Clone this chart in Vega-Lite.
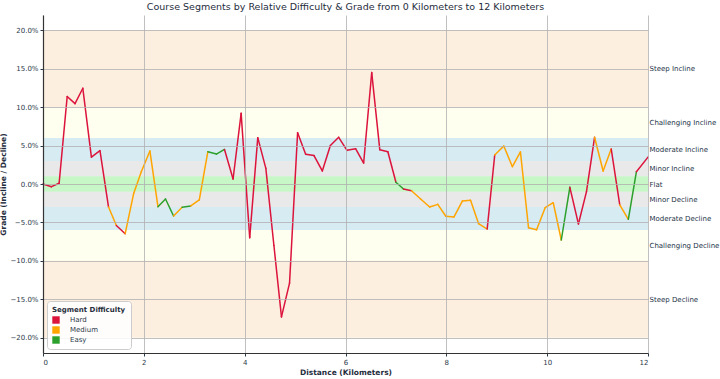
{
  "$schema": "https://vega.github.io/schema/vega-lite/v6.json",
  "width": 605,
  "height": 338,
  "autosize": "none",
  "padding": {"left": 43, "top": 15, "right": 72, "bottom": 26},
  "config": {
    "font": "DejaVu Sans",
    "view": {"stroke": null},
    "axis": {"labelColor": "#2b3a4a", "titleColor": "#1f2d3d", "labelFontSize": 7, "titleFontSize": 7.5, "titleFontWeight": "bold", "gridColor": "#b0b0b0", "gridWidth": 0.8, "gridOpacity": 1, "tickColor": "#2b3a4a", "domainColor": "#333333", "tickSize": 3}
  },
  "title": {"text": "Course Segments by Relative Difficulty & Grade from 0 Kilometers to 12 Kilometers", "fontSize": 9.5, "fontWeight": "normal", "color": "#1f2d3d", "offset": 4},
  "resolve": {"axis": {"y": "independent"}},
  "layer": [
    {
      "data": {"values": [
        {"lo": 10, "hi": 20, "zone": "steep", "name": "Steep Incline"},
        {"lo": 6, "hi": 10, "zone": "challenging", "name": "Challenging Incline"},
        {"lo": 3, "hi": 6, "zone": "moderate", "name": "Moderate Incline"},
        {"lo": 1, "hi": 3, "zone": "minor", "name": "Minor Incline"},
        {"lo": -1, "hi": 1, "zone": "flat", "name": "Flat"},
        {"lo": -3, "hi": -1, "zone": "minor", "name": "Minor Decline"},
        {"lo": -6, "hi": -3, "zone": "moderate", "name": "Moderate Decline"},
        {"lo": -10, "hi": -6, "zone": "challenging", "name": "Challenging Decline"},
        {"lo": -20, "hi": -10, "zone": "steep", "name": "Steep Decline"}
      ]},
      "mark": {"type": "rect", "fillOpacity": 0.5, "zindex": 0},
      "encoding": {
        "x": {"datum": 0, "type": "quantitative", "scale": {"domain": [0, 12], "nice": false, "zero": false}},
        "x2": {"datum": 12},
        "y": {"field": "lo", "type": "quantitative", "scale": {"domain": [-22, 22], "nice": false},
          "axis": {"orient": "right", "title": null, "grid": false, "domain": false, "ticks": false, "values": [15, 8, 4.5, 2, 0, -2, -4.5, -8, -15],
            "labelExpr": "datum.value == 15 ? 'Steep Incline' : datum.value == 8 ? 'Challenging Incline' : datum.value == 4.5 ? 'Moderate Incline' : datum.value == 2 ? 'Minor Incline' : datum.value == 0 ? 'Flat' : datum.value == -2 ? 'Minor Decline' : datum.value == -4.5 ? 'Moderate Decline' : datum.value == -8 ? 'Challenging Decline' : 'Steep Decline'",
            "labelPadding": 1, "labelFontSize": 7, "labelColor": "#243447"}},
        "y2": {"field": "hi"},
        "fill": {"field": "zone", "type": "nominal", "legend": null,
          "scale": {"domain": ["steep", "challenging", "moderate", "minor", "flat"], "range": ["#fbdfc1", "#ffffe0", "#add8e6", "#d3d3d3", "#90ee90"]}}
      }
    },
    {
      "data": {"values": [
        {"x0": 0, "y0": 0, "x1": 0.167, "y1": -0.35, "d": "Hard"},
        {"x0": 0.167, "y0": -0.35, "x1": 0.32, "y1": 0.1, "d": "Hard"},
        {"x0": 0.32, "y0": 0.1, "x1": 0.48, "y1": 11.4, "d": "Hard"},
        {"x0": 0.48, "y0": 11.4, "x1": 0.635, "y1": 10.46, "d": "Hard"},
        {"x0": 0.635, "y0": 10.46, "x1": 0.79, "y1": 12.46, "d": "Hard"},
        {"x0": 0.79, "y0": 12.46, "x1": 0.96, "y1": 3.5, "d": "Hard"},
        {"x0": 0.96, "y0": 3.5, "x1": 1.13, "y1": 4.34, "d": "Hard"},
        {"x0": 1.13, "y0": 4.34, "x1": 1.3, "y1": -3.0, "d": "Hard"},
        {"x0": 1.3, "y0": -3.0, "x1": 1.455, "y1": -5.4, "d": "Medium"},
        {"x0": 1.455, "y0": -5.4, "x1": 1.63, "y1": -6.47, "d": "Hard"},
        {"x0": 1.63, "y0": -6.47, "x1": 1.8, "y1": -1.2, "d": "Medium"},
        {"x0": 1.8, "y0": -1.2, "x1": 1.95, "y1": 1.6, "d": "Medium"},
        {"x0": 1.95, "y0": 1.6, "x1": 2.12, "y1": 4.3, "d": "Medium"},
        {"x0": 2.12, "y0": 4.3, "x1": 2.28, "y1": -2.95, "d": "Medium"},
        {"x0": 2.28, "y0": -2.95, "x1": 2.43, "y1": -1.95, "d": "Easy"},
        {"x0": 2.43, "y0": -1.95, "x1": 2.59, "y1": -4.17, "d": "Easy"},
        {"x0": 2.59, "y0": -4.17, "x1": 2.76, "y1": -3.03, "d": "Medium"},
        {"x0": 2.76, "y0": -3.03, "x1": 2.93, "y1": -2.86, "d": "Easy"},
        {"x0": 2.93, "y0": -2.86, "x1": 3.1, "y1": -2.08, "d": "Medium"},
        {"x0": 3.1, "y0": -2.08, "x1": 3.27, "y1": 4.2, "d": "Medium"},
        {"x0": 3.27, "y0": 4.2, "x1": 3.44, "y1": 3.9, "d": "Easy"},
        {"x0": 3.44, "y0": 3.9, "x1": 3.6, "y1": 4.5, "d": "Easy"},
        {"x0": 3.6, "y0": 4.5, "x1": 3.77, "y1": 0.65, "d": "Hard"},
        {"x0": 3.77, "y0": 0.65, "x1": 3.93, "y1": 9.2, "d": "Hard"},
        {"x0": 3.93, "y0": 9.2, "x1": 4.1, "y1": -7.0, "d": "Hard"},
        {"x0": 4.1, "y0": -7.0, "x1": 4.26, "y1": 6.03, "d": "Hard"},
        {"x0": 4.26, "y0": 6.03, "x1": 4.42, "y1": 2.04, "d": "Hard"},
        {"x0": 4.42, "y0": 2.04, "x1": 4.58, "y1": -8.0, "d": "Hard"},
        {"x0": 4.58, "y0": -8.0, "x1": 4.73, "y1": -17.3, "d": "Hard"},
        {"x0": 4.73, "y0": -17.3, "x1": 4.89, "y1": -12.9, "d": "Hard"},
        {"x0": 4.89, "y0": -12.9, "x1": 5.05, "y1": 6.68, "d": "Hard"},
        {"x0": 5.05, "y0": 6.68, "x1": 5.21, "y1": 3.87, "d": "Hard"},
        {"x0": 5.21, "y0": 3.87, "x1": 5.375, "y1": 3.7, "d": "Hard"},
        {"x0": 5.375, "y0": 3.7, "x1": 5.54, "y1": 1.7, "d": "Hard"},
        {"x0": 5.54, "y0": 1.7, "x1": 5.7, "y1": 5.0, "d": "Hard"},
        {"x0": 5.7, "y0": 5.0, "x1": 5.865, "y1": 6.08, "d": "Hard"},
        {"x0": 5.865, "y0": 6.08, "x1": 6.03, "y1": 4.38, "d": "Hard"},
        {"x0": 6.03, "y0": 4.38, "x1": 6.2, "y1": 4.6, "d": "Hard"},
        {"x0": 6.2, "y0": 4.6, "x1": 6.36, "y1": 2.73, "d": "Hard"},
        {"x0": 6.36, "y0": 2.73, "x1": 6.52, "y1": 14.5, "d": "Hard"},
        {"x0": 6.52, "y0": 14.5, "x1": 6.68, "y1": 4.47, "d": "Hard"},
        {"x0": 6.68, "y0": 4.47, "x1": 6.84, "y1": 4.2, "d": "Hard"},
        {"x0": 6.84, "y0": 4.2, "x1": 7.0, "y1": 0.22, "d": "Hard"},
        {"x0": 7.0, "y0": 0.22, "x1": 7.15, "y1": -0.65, "d": "Easy"},
        {"x0": 7.15, "y0": -0.65, "x1": 7.31, "y1": -0.87, "d": "Hard"},
        {"x0": 7.31, "y0": -0.87, "x1": 7.49, "y1": -1.95, "d": "Medium"},
        {"x0": 7.49, "y0": -1.95, "x1": 7.67, "y1": -3.0, "d": "Medium"},
        {"x0": 7.67, "y0": -3.0, "x1": 7.83, "y1": -2.65, "d": "Medium"},
        {"x0": 7.83, "y0": -2.65, "x1": 7.99, "y1": -4.2, "d": "Medium"},
        {"x0": 7.99, "y0": -4.2, "x1": 8.15, "y1": -4.3, "d": "Medium"},
        {"x0": 8.15, "y0": -4.3, "x1": 8.32, "y1": -2.2, "d": "Medium"},
        {"x0": 8.32, "y0": -2.2, "x1": 8.48, "y1": -2.13, "d": "Medium"},
        {"x0": 8.48, "y0": -2.13, "x1": 8.64, "y1": -5.17, "d": "Medium"},
        {"x0": 8.64, "y0": -5.17, "x1": 8.81, "y1": -5.86, "d": "Medium"},
        {"x0": 8.81, "y0": -5.86, "x1": 8.96, "y1": 3.78, "d": "Hard"},
        {"x0": 8.96, "y0": 3.78, "x1": 9.14, "y1": 4.95, "d": "Medium"},
        {"x0": 9.14, "y0": 4.95, "x1": 9.31, "y1": 2.25, "d": "Medium"},
        {"x0": 9.31, "y0": 2.25, "x1": 9.47, "y1": 4.17, "d": "Medium"},
        {"x0": 9.47, "y0": 4.17, "x1": 9.63, "y1": -5.69, "d": "Medium"},
        {"x0": 9.63, "y0": -5.69, "x1": 9.79, "y1": -5.95, "d": "Medium"},
        {"x0": 9.79, "y0": -5.95, "x1": 9.96, "y1": -3.08, "d": "Medium"},
        {"x0": 9.96, "y0": -3.08, "x1": 10.12, "y1": -2.43, "d": "Medium"},
        {"x0": 10.12, "y0": -2.43, "x1": 10.28, "y1": -7.29, "d": "Medium"},
        {"x0": 10.28, "y0": -7.29, "x1": 10.45, "y1": -0.43, "d": "Easy"},
        {"x0": 10.45, "y0": -0.43, "x1": 10.62, "y1": -5.2, "d": "Hard"},
        {"x0": 10.62, "y0": -5.2, "x1": 10.78, "y1": -1.0, "d": "Hard"},
        {"x0": 10.78, "y0": -1.0, "x1": 10.94, "y1": 6.08, "d": "Hard"},
        {"x0": 10.94, "y0": 6.08, "x1": 11.11, "y1": 1.7, "d": "Medium"},
        {"x0": 11.11, "y0": 1.7, "x1": 11.27, "y1": 4.56, "d": "Medium"},
        {"x0": 11.27, "y0": 4.56, "x1": 11.44, "y1": -2.73, "d": "Hard"},
        {"x0": 11.44, "y0": -2.73, "x1": 11.61, "y1": -4.6, "d": "Medium"},
        {"x0": 11.61, "y0": -4.6, "x1": 11.77, "y1": 1.6, "d": "Easy"},
        {"x0": 11.77, "y0": 1.6, "x1": 12.0, "y1": 3.5, "d": "Hard"}
      ]},
      "mark": {"type": "rule", "strokeWidth": 1.5, "strokeCap": "round", "zindex": 2},
      "encoding": {
        "x": {"field": "x0", "type": "quantitative", "scale": {"domain": [0, 12], "nice": false, "zero": false},
          "axis": {"grid": true, "zindex": 1, "values": [0, 2, 4, 6, 8, 10, 12], "format": "d", "title": "Distance (Kilometers)", "titlePadding": 3, "domainWidth": 1.2}},
        "x2": {"field": "x1"},
        "y": {"field": "y0", "type": "quantitative", "scale": {"domain": [-22, 22], "nice": false},
          "axis": {"grid": true, "zindex": 1, "orient": "left", "values": [-20, -15, -10, -5, 0, 5, 10, 15, 20], "labelExpr": "format(datum.value, '.1f') + '%'", "title": "Grade (Incline / Decline)", "titlePadding": 2, "labelPadding": 2, "domainWidth": 1.2}},
        "y2": {"field": "y1"},
        "color": {"field": "d", "type": "nominal",
          "scale": {"domain": ["Hard", "Medium", "Easy"], "range": ["#dc143c", "#ffa500", "#2ca02c"]},
          "legend": {"title": "Segment Difficulty", "orient": "bottom-left", "offset": 4, "padding": 5, "symbolType": "square", "symbolSize": 55,
            "titleFontSize": 7, "titleFontWeight": "bold", "titleColor": "#1f2d3d", "labelFontSize": 7, "labelColor": "#2b3a4a", "titlePadding": 3,
            "fillColor": "rgba(255,255,255,0.85)", "strokeColor": "#cccccc", "cornerRadius": 3, "rowPadding": 2, "labelOffset": 10, "zindex": 3,
            "encode": {"symbols": {"update": {"fill": {"scale": "color", "field": "value"}, "fillOpacity": {"value": 1}, "strokeWidth": {"value": 0}}}}}}
      }
    }
  ]
}
